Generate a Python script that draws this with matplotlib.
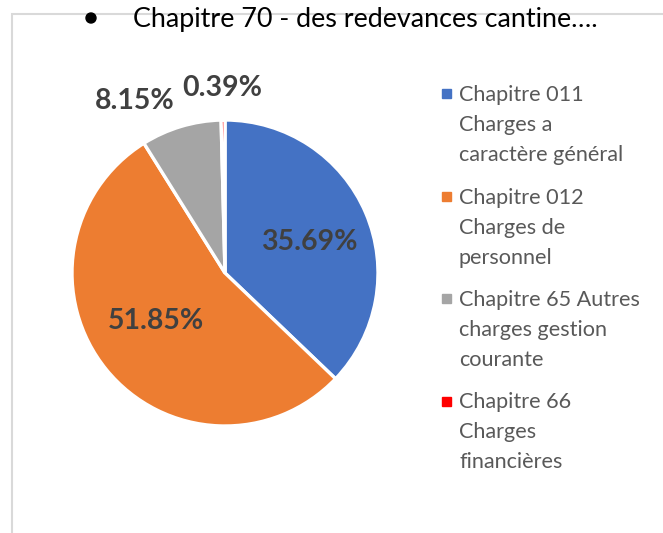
import numpy as np
import matplotlib.pyplot as plt
from matplotlib.patches import Rectangle, Ellipse

plt.rcParams['font.family'] = ['Lato', 'DejaVu Sans']

# data
categories = ["Chapitre 011\nCharges a\ncaractère général",
              "Chapitre 012\nCharges de\npersonnel",
              "Chapitre 65 Autres\ncharges gestion\ncourante",
              "Chapitre 66\nCharges\nfinancières"]
shares = [35.69, 51.85, 8.15, 0.39]
colors = ["#4472C4", "#ED7D31", "#A5A5A5", "#FF0000"]
title = "Chapitre 70 - des redevances cantine…."

# label placement (radius fraction, angle shift in degrees)
label_dist = [0.59, 0.55, 1.27, 1.21]
label_shift = [-3, -4, 11, 0]

W, H = 663, 533
fig = plt.figure(figsize=(W / 100, H / 100), dpi=100)

def fx(px):
    return px / W

def fy(py):
    return 1 - py / H

# light frame of the chart area
fig.patches.append(Rectangle((fx(11.5), -0.1), 1.2, fy(14) + 0.1,
                             transform=fig.transFigure, fill=False,
                             edgecolor="#D9D9D9", linewidth=1.5))

cx, cy, r = 225, 273, 153
ax = fig.add_axes([fx(cx - r), fy(cy + r), 2 * r / W, 2 * r / H])
wedges, _ = ax.pie(shares, colors=colors, startangle=90, counterclock=False,
                   radius=1, wedgeprops=dict(edgecolor="white", linewidth=2.4))
ax.set_xlim(-1, 1)
ax.set_ylim(-1, 1)
ax.set_aspect("equal")
ax.axis("off")

for w, val, d, s in zip(wedges, shares, label_dist, label_shift):
    ang = np.deg2rad((w.theta1 + w.theta2) / 2 + s)
    ax.text(d * np.cos(ang), d * np.sin(ang), f"{val:.2f}%",
            ha="center", va="center", fontsize=20.5, fontweight="bold",
            color="#404040", clip_on=False)

# title with bullet
fig.patches.append(Ellipse((fx(91), fy(18)), 10 / W, 10 / H,
                           transform=fig.transFigure, color="black"))
fig.text(fx(133), fy(27), title, fontsize=19.4, ha="left", va="baseline",
         color="black")

# legend
for i, (lab, col) in enumerate(zip(categories, colors)):
    base = 101 + i * 102.5
    fig.patches.append(Rectangle((fx(442), fy(base - 3)), 9 / W, 9 / H,
                                 transform=fig.transFigure, color=col))
    for j, line in enumerate(lab.split("\n")):
        fig.text(fx(459), fy(base + j * 30), line, fontsize=15.6,
                 ha="left", va="baseline", color="#595959")

fig.savefig("out.png", dpi=100)
